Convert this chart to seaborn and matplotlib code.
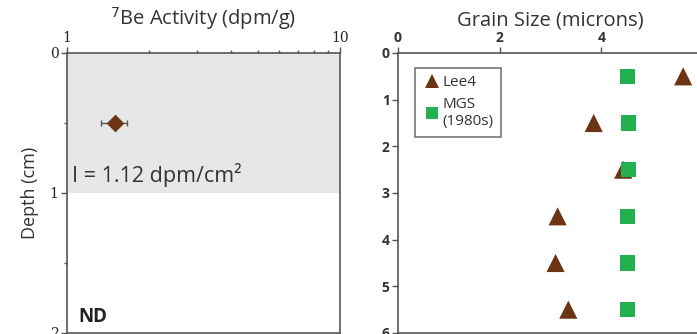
import matplotlib
matplotlib.use("Agg")
import matplotlib.pyplot as plt
import seaborn as sns
import pandas as pd
import numpy as np
from matplotlib.ticker import LogLocator, NullFormatter, FixedLocator

sns.set_theme(style="white")
plt.rcParams['font.family'] = ['Open Sans', 'DejaVu Sans']

# 7Be activity profile
be_depth = [0.5]
be_activity = [1.5]
be_err_low = [0.17]
be_err_high = [0.16]
inventory_label = "I = 1.12 dpm/cm²"

# Grain size profiles
gs_depth = [0.5, 1.5, 2.5, 3.5, 4.5, 5.5]
lee4_size = [5.61, 3.85, 4.43, 3.14, 3.10, 3.35]
mgs_size = [4.52, 4.53, 4.53, 4.52, 4.52, 4.52]

brown = "#6b3514"
green = "#23b04f"
spine_col = "#555555"
text_col = "#333333"

fig = plt.figure(figsize=(6.97, 3.34), dpi=100)
ax1 = fig.add_axes([67/697, 1/334, 273/697, 280/334])
ax2 = fig.add_axes([398/697, 1/334, 305/697, 280/334])

# ---- left panel: 7Be activity ----
ax1.axhspan(0, 1, color="#e6e7e9", zorder=0, lw=0)
be_df = pd.DataFrame({"depth": be_depth, "activity": be_activity})
ax1.errorbar(be_activity, be_depth, xerr=[be_err_low, be_err_high], fmt="none",
             ecolor="#555555", elinewidth=1, capsize=2.5, zorder=2)
sns.scatterplot(data=be_df, x="activity", y="depth", marker="D", s=70,
                color=brown, edgecolor=brown, ax=ax1, zorder=3, legend=False)
ax1.set_xscale("log")
ax1.set_xlim(1, 10)
ax1.set_ylim(2, 0)
ax1.xaxis.tick_top()
ax1.xaxis.set_label_position("top")
ax1.set_xticks([1, 10])
ax1.set_xticklabels(["1", "10"], family="DejaVu Serif", fontsize=10)
ax1.xaxis.set_minor_locator(LogLocator(base=10, subs=np.arange(2, 10)))
ax1.xaxis.set_minor_formatter(NullFormatter())
ax1.set_yticks([0, 1, 2])
ax1.set_yticklabels(["0", "1", "2"], family="DejaVu Serif", fontsize=10)
ax1.yaxis.set_minor_locator(FixedLocator([0.5, 1.5]))
ax1.set_xlabel("$^7$Be Activity (dpm/g)", fontsize=14.5, labelpad=4, color=text_col)
ax1.set_ylabel("Depth (cm)", fontsize=13, labelpad=8, color=text_col)
ax1.text(1.04, 0.87, inventory_label, fontsize=15.5, color=text_col,
         ha="left", va="center", transform=ax1.transData)
ax1.text(0.04, 0.02, "ND", fontsize=13.5, fontweight="bold", color="#222222",
         ha="left", va="bottom", transform=ax1.transAxes)
ax1.tick_params(axis="both", which="major", direction="out", length=4,
                width=1, color=spine_col, pad=2, bottom=False, top=True, left=True)
ax1.tick_params(axis="both", which="minor", direction="out", length=2.5,
                width=1, color=spine_col, bottom=False, top=True, left=True)
for sp in ax1.spines.values():
    sp.set_color(spine_col)
    sp.set_linewidth(1.2)

# ---- right panel: grain size ----
lee_name, mgs_name = "Lee4", "MGS\n(1980s)"
gs_df = pd.DataFrame({
    "depth": gs_depth * 2,
    "size": lee4_size + mgs_size,
    "series": [lee_name] * len(gs_depth) + [mgs_name] * len(gs_depth),
})
sns.scatterplot(data=gs_df, x="size", y="depth", hue="series", style="series",
                size="series",
                markers={lee_name: "^", mgs_name: "s"},
                palette={lee_name: brown, mgs_name: green},
                sizes={lee_name: 170, mgs_name: 118},
                linewidth=0, ax=ax2, zorder=3)
ax2.set_xlim(0, 6)
ax2.set_ylim(6, 0)
ax2.xaxis.tick_top()
ax2.xaxis.set_label_position("top")
ax2.set_xticks([0, 2, 4, 6])
ax2.set_yticks(range(7))
ax2.set_xlabel("Grain Size (microns)", fontsize=14.5, labelpad=4, color=text_col)
ax2.set_ylabel("")
ax2.tick_params(axis="both", which="major", direction="out", length=4,
                width=1, color=spine_col, labelsize=10, pad=2,
                bottom=False, top=True, left=True)
for lbl in ax2.get_xticklabels() + ax2.get_yticklabels():
    lbl.set_fontweight("bold")
    lbl.set_color(text_col)
for name, sp in ax2.spines.items():
    sp.set_color(spine_col)
    sp.set_linewidth(1.2)

leg = ax2.legend(loc="upper left", bbox_to_anchor=(0.03, 0.975), frameon=True,
                 fancybox=False, edgecolor="#555555", fontsize=11,
                 handletextpad=0.0, borderpad=0.5, labelspacing=0.45,
                 handlelength=1.3, markerscale=0.75)
leg.get_frame().set_linewidth(1.2)
for t in leg.get_texts():
    t.set_color(text_col)

fig.savefig("out.png", dpi=100)
